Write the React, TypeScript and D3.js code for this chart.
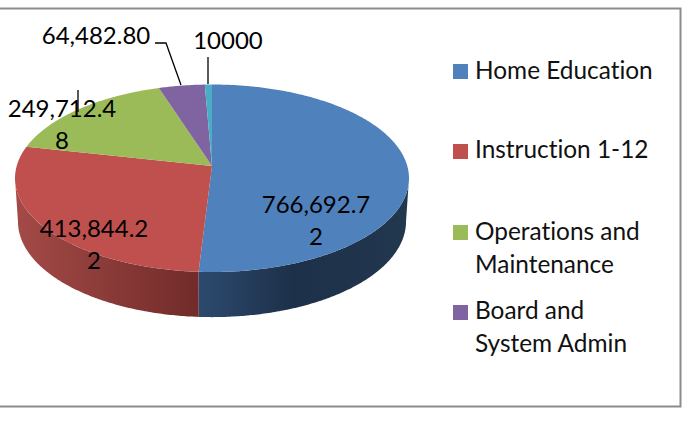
import React from "react";
import * as d3 from "d3";

const sliceNames = ["Home Education", "Instruction 1-12", "Operations and Maintenance", "Board and System Admin", "Other"];
const sliceValues = [766692.72, 413844.22, 249712.48, 64482.8, 10000];
const sliceColors = ["#4f81bd", "#c0504d", "#9bbb59", "#8064a2", "#4bacc6"];
const labelLines = [["766,692.7", "2"], ["413,844.2", "2"], ["249,712.4", "8"], ["64,482.80"], ["10000"]];
const labelAnchors = [[316, 213], [94, 237], [62, 117], [96, 44], [228, 49]];
const leaderPaths = ["M155,43H166L181,85", "M208,57V84", "M78,90V112"];
const legendRows = [
  { lines: ["Home Education"], box: 64, base: 79, color: 0 },
  { lines: ["Instruction 1-12"], box: 144, base: 158, color: 1 },
  { lines: ["Operations and", "Maintenance"], box: 225, base: 240, color: 2 },
  { lines: ["Board and", "System Admin"], box: 305, base: 319, color: 3 },
];

const W = 697, H = 423;
const CX = 212, APEX_Y = 166, K = 0.1307, RX = 195.3, RY = 92.15;
const FONT = "Lato, Carlito, sans-serif";

const project = (t: number, lower = false): [number, number] => {
  const u = Math.sin(t), v = Math.cos(t), d = 1 + K * v;
  const x = (RX * u) / d, y = (-RY * v) / d;
  return lower ? [CX + 0.985 * x, APEX_Y + 43 + 1.02 * y] : [CX + x, APEX_Y + y];
};
const sweep = (a: number, b: number, lower = false) => {
  const n = Math.max(2, Math.ceil(Math.abs(b - a) / 0.01));
  return d3.range(n + 1).map((i) => project(a + ((b - a) * i) / n, lower));
};
const line = d3.line();

export default function App() {
  const arcs = d3.pie<number>().sort(null).startAngle(0).endAngle(2 * Math.PI)(sliceValues);
  const edge = Math.acos(-K);
  const split = arcs[0].endAngle;
  const sides = [
    { a: edge, b: split, fill: "url(#sideBlue)" },
    { a: split, b: 2 * Math.PI - edge, fill: "url(#sideRed)" },
  ];
  return (
    <svg width={W} height={H} style={{ position: "absolute", left: 0, top: 0, background: "#fff", fontVariantLigatures: "none" }} fontFamily={FONT} fill="#000">
      <defs>
        <linearGradient id="sideBlue" gradientUnits="userSpaceOnUse" x1={199} x2={408} y1={0} y2={0}>
          <stop offset="0" stopColor="#2c4a6e" />
          <stop offset="0.45" stopColor="#1d3049" />
          <stop offset="1" stopColor="#22384f" />
        </linearGradient>
        <linearGradient id="sideRed" gradientUnits="userSpaceOnUse" x1={17} x2={199} y1={0} y2={0}>
          <stop offset="0" stopColor="#a34a47" />
          <stop offset="1" stopColor="#712b29" />
        </linearGradient>
      </defs>
      <path d="M0,8.5H680.5V406.5H0" fill="none" stroke="#8c8c8c" strokeWidth={2} />
      {sides.map((s, i) => (
        <path key={i} fill={s.fill} d={(line([...sweep(s.a, s.b), ...sweep(s.b, s.a, true)]) ?? "") + "Z"} />
      ))}
      {arcs.map((a, i) => (
        <path key={i} fill={sliceColors[i]} d={(line([[CX, APEX_Y], ...sweep(a.startAngle, a.endAngle)]) ?? "") + "Z"} />
      ))}
      {leaderPaths.map((d, i) => (
        <path key={i} d={d} fill="none" stroke="#000" strokeWidth={1.3} />
      ))}
      {labelLines.map((lines, i) => (
        <text key={i} fontSize={24} textAnchor="middle">
          {lines.map((l, j) => (
            <tspan key={j} x={labelAnchors[i][0]} y={labelAnchors[i][1] + j * 32}>{l}</tspan>
          ))}
        </text>
      ))}
      {legendRows.map((r, i) => (
        <g key={i}>
          <rect x={453} y={r.box} width={15} height={15} fill={sliceColors[r.color]} />
          <text fontSize={24.4} fill="#111">
            {r.lines.map((l, j) => (
              <tspan key={j} x={475} y={r.base + j * 32.5}>{l}</tspan>
            ))}
          </text>
        </g>
      ))}
    </svg>
  );
}
